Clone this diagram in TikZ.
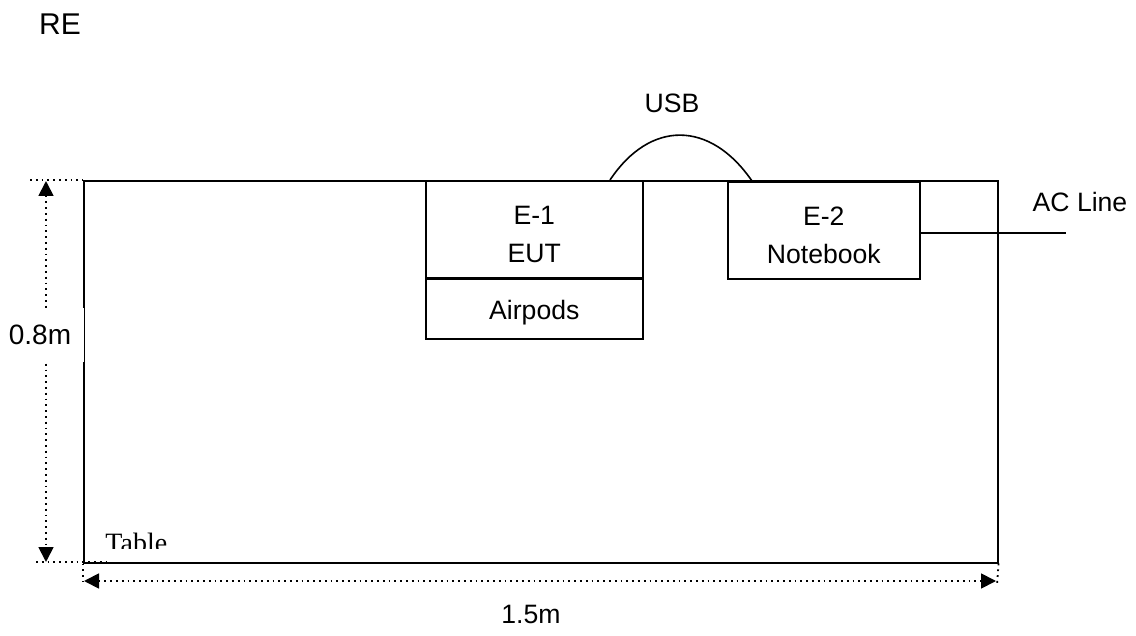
\documentclass[tikz,border=0pt]{standalone}
\usepackage{fontspec}
\setmainfont{Liberation Sans}
\newfontfamily\tablefont{Liberation Serif}
\usetikzlibrary{positioning,arrows.meta}
\newcommand{\twolines}[2]{\raisebox{-4pt}[\height][\depth]{\begin{tabular}{@{}c@{}}#1\\[3pt]#2\end{tabular}}}

\begin{document}
\begin{tikzpicture}[x=0.5pt,y=-0.5pt,
  every node/.style={font=\fontsize{13.3}{16}\selectfont,inner sep=0pt},
  dimline/.style={dotted,line width=0.9pt},
  dimarrow/.style={dimline,{Triangle[length=7.5pt,width=7.5pt]}-{Triangle[length=7.5pt,width=7.5pt]}},
  wire/.style={line width=0.8pt}]
\useasboundingbox[fill=white] (0,0) rectangle (1136,636);
% table
\node[draw,line width=0.8pt,anchor=north west,minimum width=457pt,minimum height=191pt] (table) at (83,180) {};
\begin{scope}
\clip (90,520) rectangle (200,548);
\node[font=\tablefont\fontsize{14}{16}\selectfont,anchor=base west] (tbl) at (105,552) {Table};
\end{scope}
% units on the table
\node[draw,line width=0.8pt,anchor=north west,minimum width=108.5pt,minimum height=48.5pt] (eut) at (425,180) {\twolines{E-1}{EUT}};
\node[draw,line width=0.8pt,anchor=north west,minimum width=108.5pt,minimum height=30.5pt] (airpods) at (425,277.5) {\raisebox{-2pt}[\height][\depth]{Airpods}};
\draw[line width=1.4pt] (eut.south west) -- (eut.south east);
\node[draw,line width=0.8pt,anchor=north west,minimum width=96pt,minimum height=48.5pt] (notebook) at (727,181) {\twolines{E-2}{Notebook}};
% cables
\coordinate (usbA) at (610,180);
\coordinate (usbB) at (752,181);
\draw[wire] (usbA) .. controls (650,120) and (710,120) .. (usbB);
\node (usb) at (672,103) {USB};
\coordinate (acEnd) at (1066,233);
\draw[wire] (notebook.east |- acEnd) -- (acEnd);
\node (ac) at (1080,202) {AC Line};
% dimensions
\coordinate (tl) at (30,180);
\coordinate (bl) at (36,562);
\draw[dimline] (tl) -- (table.north west);
\draw[dimline] (bl) -- (107,562);
\draw[dimarrow] (46,181) -- (46,562);
\draw[dimline] (table.south west) -- (83,582);
\draw[dimline] (table.south east) -- (997,584);
\draw[dimarrow] (84,581) -- (996,581);
\node[fill=white,font=\fontsize{14}{16}\selectfont,minimum height=27pt,minimum width=44pt] (h) at (40,335) {0.8m};
\node (w) at (531,614) {1.5m};
\node[font=\fontsize{15}{18}\selectfont] (re) at (60,24) {RE};
\end{tikzpicture}
\end{document}
